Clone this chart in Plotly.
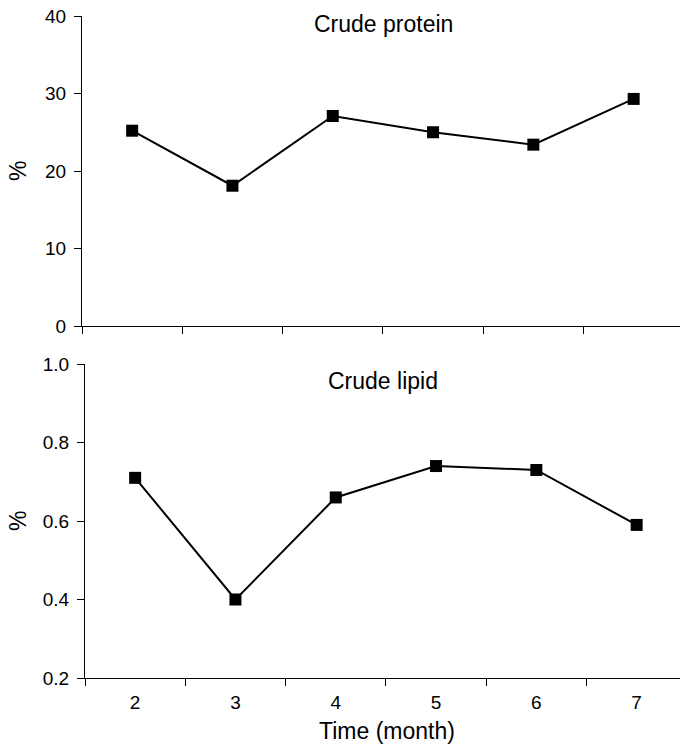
import plotly.graph_objects as go

months = ["2", "3", "4", "5", "6", "7"]
crude_protein = [25.2, 18.1, 27.1, 25.0, 23.4, 29.3]
crude_lipid = [0.71, 0.40, 0.66, 0.74, 0.73, 0.59]

W, H = 680, 747
FONT = "Liberation Sans, Arial, sans-serif"

def sx(p):
    return p / W

def sy(p):
    return 1 - p / H

fig = go.Figure()
line_style = dict(color="black", width=2)
marker_style = dict(symbol="square", size=12, color="black")

fig.add_trace(go.Scatter(x=months, y=crude_protein, mode="lines+markers",
                         line=line_style, marker=marker_style, xaxis="x", yaxis="y",
                         showlegend=False, cliponaxis=False))
fig.add_trace(go.Scatter(x=months, y=crude_lipid, mode="lines+markers",
                         line=line_style, marker=marker_style, xaxis="x2", yaxis="y2",
                         showlegend=False, cliponaxis=False))

axis_common = dict(showline=True, linecolor="black", linewidth=1, showgrid=False,
                   zeroline=False, ticks="outside", ticklen=7, tickcolor="black",
                   tickwidth=1, automargin=False, ticklabeloverflow="allow",
                   tickfont=dict(family=FONT, size=19, color="black"))

fig.update_layout(
    template="none",
    width=W, height=H,
    margin=dict(l=0, r=0, t=0, b=0, autoexpand=False),
    paper_bgcolor="white", plot_bgcolor="white",
    font=dict(family=FONT, color="black"),
    xaxis=dict(axis_common, type="category", domain=[sx(82), 1], anchor="y",
               range=[-0.5, -0.5 + (W - 82) / 100.3], tickson="boundaries",
               showticklabels=False),
    yaxis=dict(axis_common, domain=[sy(326), sy(16)], anchor="x",
               range=[0, 40], tickvals=[0, 10, 20, 30, 40], ticklabelstandoff=4),
    xaxis2=dict(axis_common, type="category", domain=[sx(85), 1], anchor="y2",
                range=[-0.5, -0.5 + (W - 85) / 100.3], tickson="boundaries",
                ticklabelstandoff=7),
    yaxis2=dict(axis_common, domain=[sy(678), sy(364)], anchor="x2",
                range=[0.2, 1.0], tickvals=[0.2, 0.4, 0.6, 0.8, 1.0],
                tickformat=".1f", ticklabelstandoff=4),
)

title_font = dict(family=FONT, size=23, color="black")
annotations = [
    dict(text="Crude protein", x=sx(383), y=sy(24), xref="paper", yref="paper",
         showarrow=False, font=title_font, xanchor="center", yanchor="middle"),
    dict(text="Crude lipid", x=sx(383), y=sy(381), xref="paper", yref="paper",
         showarrow=False, font=title_font, xanchor="center", yanchor="middle"),
    dict(text="%", x=sx(18), y=sy(171), xref="paper", yref="paper", textangle=-90,
         showarrow=False, font=title_font, xanchor="center", yanchor="middle"),
    dict(text="%", x=sx(18), y=sy(521), xref="paper", yref="paper", textangle=-90,
         showarrow=False, font=title_font, xanchor="center", yanchor="middle"),
    dict(text="Time (month)", x=sx(387), y=sy(731), xref="paper", yref="paper",
         showarrow=False, font=title_font, xanchor="center", yanchor="middle"),
]
fig.update_layout(annotations=annotations)

fig.write_html("out.html", config={"displayModeBar": False},
               post_script="document.body.style.margin='0';")
